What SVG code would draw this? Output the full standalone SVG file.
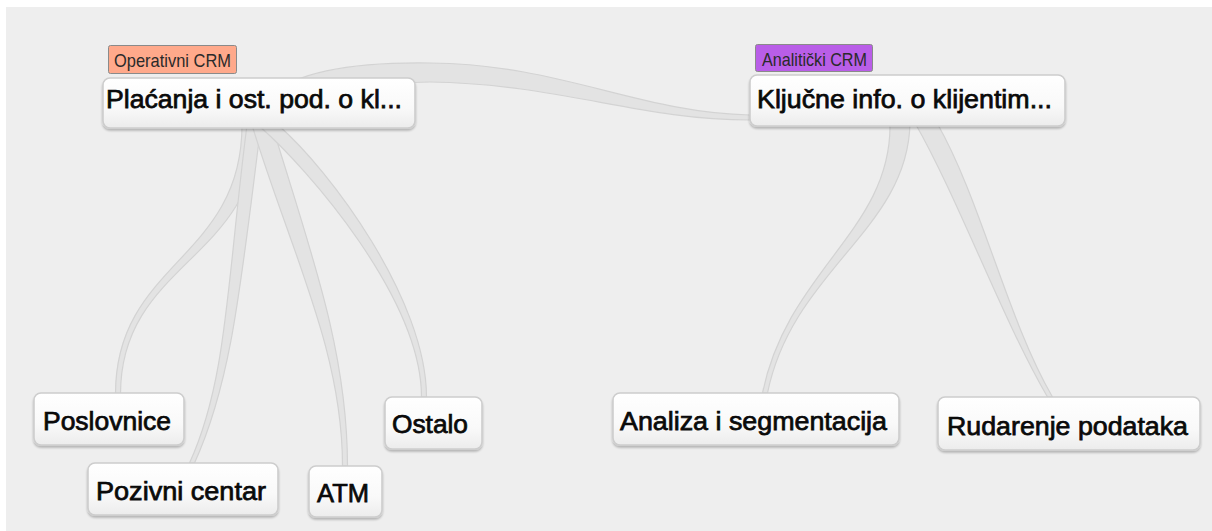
<svg xmlns="http://www.w3.org/2000/svg" width="1212" height="531" viewBox="0 0 1212 531">
<defs>
<linearGradient id="nodeFill" x1="0" y1="0" x2="0" y2="1">
<stop offset="0" stop-color="#ffffff"/>
<stop offset="0.6" stop-color="#f9f9f9"/>
<stop offset="1" stop-color="#ececec"/>
</linearGradient>
<filter id="shadow" x="-10%" y="-20%" width="120%" height="150%">
<feGaussianBlur in="SourceAlpha" stdDeviation="1.2"/>
<feOffset dx="0" dy="1.5" result="b"/>
<feComponentTransfer><feFuncA type="linear" slope="0.25"/></feComponentTransfer>
<feMerge><feMergeNode/><feMergeNode in="SourceGraphic"/></feMerge>
</filter>
</defs>
<style>
.box{fill:url(#nodeFill);stroke:#cdcdcd;stroke-width:1.6;filter:url(#shadow)}
.lbl{font-family:"Liberation Sans",Arial,sans-serif;font-size:26.5px;fill:#0a0a0a;stroke:#0a0a0a;stroke-width:0.75}
.tag{stroke:#8a8a8a;stroke-width:1}
.tagt{font-family:"Liberation Sans",Arial,sans-serif;font-size:19px;fill:#2a2a2a}
.rib{fill:#e3e3e3;stroke:#d3d3d3;stroke-width:1.2}
</style>
<rect x="0" y="0" width="1212" height="531" fill="#ffffff"/>
<rect x="6" y="7" width="1206" height="524" fill="#eeeeee"/>
<g id="connectors">
<path class="rib" d="M270,95 C300,70 360,62 430,63 C560,64 640,113 750,115 L750,120 C640,120 560,84 430,82 C360,82 300,100 270,105 Z"/>
<path class="rib" d="M242,125 C242,260 115.5,262 115.5,394 L120.5,394 C120.5,262 258,260 258,125 Z"/>
<path class="rib" d="M247,125 C227,280 227.5,380 189.5,463 L194.5,463 C232.5,380 241,280 261,125 Z"/>
<path class="rib" d="M252,125 C290,250 342.5,350 342.5,466 L347.5,466 C347.5,350 310,250 272,125 Z"/>
<path class="rib" d="M258,125 C310,170 421.5,300 421.5,397 L426.5,397 C426.5,300 330,170 278,125 Z"/>
<path class="rib" d="M890,123 C892,230 787.5,270 762.5,393 L767.5,393 C792.5,270 908,230 910,123 Z"/>
<path class="rib" d="M915,123 C959,200 1002.5,320 1047.5,397 L1052.5,397 C1007.5,320 981,200 937,123 Z"/>
</g>
<g id="n-operativni">
<rect class="box" x="103" y="78" width="312" height="50" rx="7"/>
<text class="lbl" x="106" y="108" textLength="296" lengthAdjust="spacingAndGlyphs">Plaćanja i ost. pod. o kl...</text>
<rect class="tag" x="108.5" y="45.5" width="128" height="28" rx="2" fill="#ffa98b"/>
<text class="tagt" x="114" y="67" textLength="117" lengthAdjust="spacingAndGlyphs">Operativni CRM</text>
</g>
<g id="n-analiticki">
<rect class="box" x="750" y="75" width="315" height="51" rx="7"/>
<text class="lbl" x="757" y="108" textLength="295" lengthAdjust="spacingAndGlyphs">Ključne info. o klijentim...</text>
<rect class="tag" x="755.5" y="44.5" width="117" height="27" rx="2" fill="#b95ee8"/>
<text class="tagt" x="762" y="66" textLength="105" lengthAdjust="spacingAndGlyphs">Analitički CRM</text>
</g>
<g id="n-poslovnice">
<rect class="box" x="34" y="393" width="150" height="52" rx="7"/>
<text class="lbl" x="43" y="430" textLength="128" lengthAdjust="spacingAndGlyphs">Poslovnice</text>
</g>
<g id="n-pozivni">
<rect class="box" x="88" y="463" width="190" height="52" rx="7"/>
<text class="lbl" x="96" y="500" textLength="170" lengthAdjust="spacingAndGlyphs">Pozivni centar</text>
</g>
<g id="n-atm">
<rect class="box" x="309" y="466" width="73" height="51" rx="7"/>
<text class="lbl" x="317" y="502" textLength="52" lengthAdjust="spacingAndGlyphs">ATM</text>
</g>
<g id="n-ostalo">
<rect class="box" x="385" y="397" width="97" height="52" rx="7"/>
<text class="lbl" x="392" y="433" textLength="76" lengthAdjust="spacingAndGlyphs">Ostalo</text>
</g>
<g id="n-analiza">
<rect class="box" x="613" y="393" width="286" height="52" rx="7"/>
<text class="lbl" x="620" y="430" textLength="267" lengthAdjust="spacingAndGlyphs">Analiza i segmentacija</text>
</g>
<g id="n-rudarenje">
<rect class="box" x="938" y="397" width="262" height="53" rx="7"/>
<text class="lbl" x="947" y="435" textLength="241" lengthAdjust="spacingAndGlyphs">Rudarenje podataka</text>
</g>
</svg>
